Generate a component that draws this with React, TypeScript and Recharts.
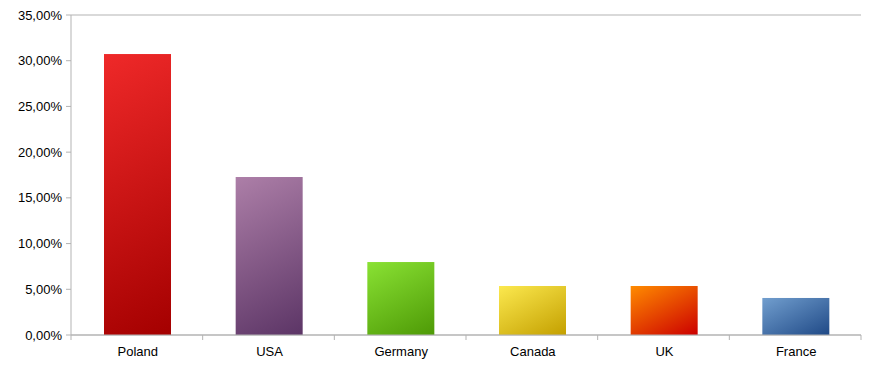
import React from 'react';
import { BarChart, Bar, XAxis, YAxis, CartesianGrid, Cell } from 'recharts';

const countries = ['Poland', 'USA', 'Germany', 'Canada', 'UK', 'France'];
const shares = [30.73, 17.28, 7.98, 5.36, 5.36, 4.05];
const yTicks = [0, 5, 10, 15, 20, 25, 30, 35];

// light / dark stop pairs for each bar's gradient
const lightColors = ['#ef2929', '#ad7fa8', '#8ae234', '#fce94f', '#ff8c00', '#729fcf'];
const darkColors = ['#a40000', '#5c3566', '#4e9a06', '#c4a000', '#cc0000', '#204a87'];

const data = countries.map((name, i) => ({ name, share: shares[i] }));

const GRID = '#b3b3b3';
const FONT = '"Liberation Sans", Arial, sans-serif';

const formatPercent = (v: number) => v.toFixed(2).replace('.', ',') + '%';

// gradient with tilted isolines fixed in screen space
const GradientBar = (props: any) => {
  const { x, y, width, height, index } = props;
  if (!height || height <= 0) return null;
  const angle = (28 * Math.PI) / 180;
  const sx = Math.sin(angle);
  const cy = Math.cos(angle);
  const len = width * sx + height * cy;
  const id = `bar-grad-${index}`;
  return (
    <g>
      <defs>
        <linearGradient
          id={id}
          gradientUnits="userSpaceOnUse"
          x1={x}
          y1={y}
          x2={x + len * sx}
          y2={y + len * cy}
        >
          <stop offset="0%" stopColor={lightColors[index]} />
          <stop offset="100%" stopColor={darkColors[index]} />
        </linearGradient>
      </defs>
      <rect x={x + 1} y={y} width={width} height={height} fill={`url(#${id})`} />
    </g>
  );
};

// category label centred, tick marks on the band boundaries
const CategoryTick = (props: any) => {
  const { x, y, payload, index, width } = props;
  const band = (width || 790) / countries.length;
  const left = x - band / 2;
  return (
    <g>
      <line x1={left} y1={y} x2={left} y2={y + 5} stroke={GRID} />
      {index === countries.length - 1 && (
        <line x1={left + band} y1={y} x2={left + band} y2={y + 5} stroke={GRID} />
      )}
      <text
        x={x + 1}
        y={y + 12}
        dy="0.71em"
        textAnchor="middle"
        fill="#000"
        fontSize={13}
        fontFamily={FONT}
      >
        {payload.value}
      </text>
    </g>
  );
};

export default function App() {
  return (
    <div style={{ position: 'absolute', left: 0, top: 0, background: '#fff' }}>
      <BarChart
        width={879}
        height={366}
        data={data}
        margin={{ top: 15, right: 18, left: 0, bottom: 5 }}
      >
        <CartesianGrid vertical={false} stroke={GRID} />
        <XAxis
          dataKey="name"
          height={26}
          axisLine={{ stroke: GRID }}
          tickLine={false}
          tickSize={0}
          tickMargin={0}
          interval={0}
          tick={<CategoryTick />}
        />
        <YAxis
          yAxisId="left"
          width={71}
          domain={[0, 35]}
          ticks={yTicks}
          interval={0}
          tickFormatter={formatPercent}
          axisLine={{ stroke: GRID }}
          tickLine={{ stroke: GRID }}
          tickSize={5}
          tickMargin={4}
          tick={{ fill: '#000', fontSize: 13, fontFamily: FONT }}
        />
        <YAxis
          yAxisId="right"
          orientation="right"
          width={0}
          domain={[0, 35]}
          tick={false}
          tickLine={false}
          axisLine={{ stroke: GRID }}
        />
        <Bar
          yAxisId="left"
          dataKey="share"
          barSize={67}
          shape={<GradientBar />}
          isAnimationActive={false}
        >
          {data.map((d, i) => (
            <Cell key={d.name} />
          ))}
        </Bar>
      </BarChart>
    </div>
  );
}
